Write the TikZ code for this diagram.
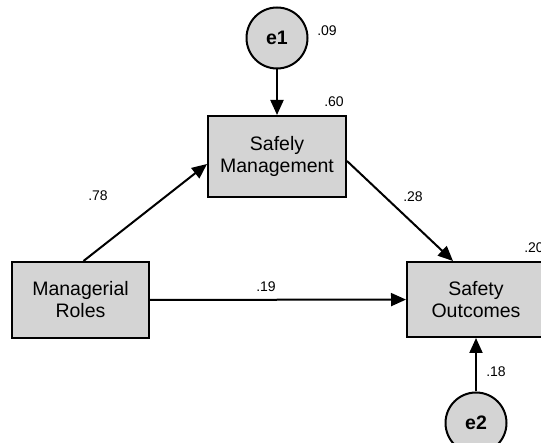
\documentclass[tikz,border=0pt]{standalone}
\usepackage{fontspec}
\setmainfont{Liberation Sans}
\usetikzlibrary{arrows.meta,positioning}

\begin{document}
\begin{tikzpicture}[x=1pt, y=-1pt,
          var/.style={draw, line width=2pt, fill=black!17, align=center, inner sep=0pt, font=\fontsize{19.5}{22}\selectfont},
          err/.style={draw, circle, line width=2pt, fill=black!17, minimum size=61pt, inner sep=0pt, font=\fontsize{19.5}{22}\selectfont\bfseries},
          coef/.style={font=\fontsize{14}{16}\selectfont},
          arr/.style={-{Triangle[length=15pt, width=13pt]}, line width=2pt}
        ]
        \useasboundingbox (0,0) rectangle (541,443);
        \clip (0,0) rectangle (541,443);
        \node[var, minimum width=138pt, minimum height=81pt] (sm) at (277,156.5) {Safely\\Management};
        \node[var, minimum width=137pt, minimum height=76pt] (mr) at (80.5,300) {Managerial\\Roles};
        \node[var, minimum width=138pt, minimum height=75pt] (so) at (476,299.5) {Safety\\Outcomes};
        \node[err] (e1) at (277,38) {e1};
        \node[err] (e2) at (476,423) {e2};
        % coefficients
        \node[coef] (l09) at (327,31) {.09};
        \node[coef] (l60) at (334,102) {.60};
        \node[coef] (l78) at (98,196) {.78};
        \node[coef] (l28) at (413,197) {.28};
        \node[coef] (l19) at (266,287) {.19};
        \node[coef] (l20) at (534,248) {.20};
        \node[coef] (l18) at (496,372) {.18};
        % paths
        \draw[arr] (e1) -- (sm);
        \draw[arr] (e2) -- (so);
        \draw[arr] (mr.north) ++(3,0) -- (sm.west |- 0,164);
        \draw[arr] (sm.east |- 0,161) -- (so.north -| 453,0);
        \draw[arr] (mr) -- (so);
      \end{tikzpicture}
\end{document}
